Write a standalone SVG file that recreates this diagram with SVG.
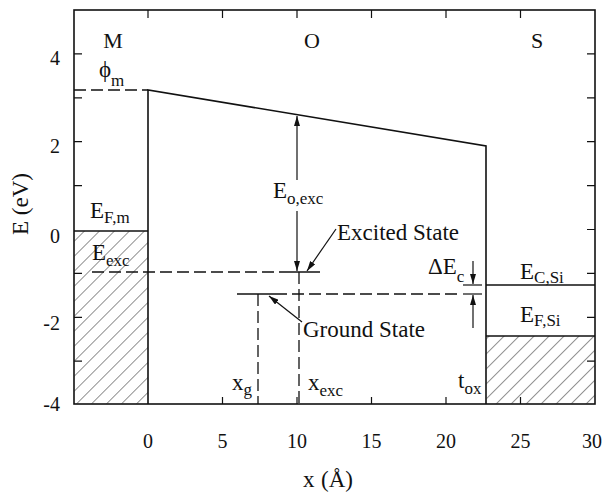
<svg xmlns="http://www.w3.org/2000/svg" width="605" height="493" viewBox="0 0 605 493">
<style>
text{font-family:"Liberation Serif","Times New Roman",serif;fill:#111}
.lbl{font-size:23px}
.reg{font-size:22px}
.sub{font-size:17px}
.tick{font-size:20px}
.ln{stroke:#111;stroke-width:1.6;fill:none}
.thin{stroke:#111;stroke-width:1.2;fill:none}
.dash{stroke:#111;stroke-width:1.3;fill:none;stroke-dasharray:12 5}
.hatch{fill:url(#hatch);stroke:none}
</style>
<defs>
<pattern id="hatch" patternUnits="userSpaceOnUse" width="10.6" height="10.6" patternTransform="rotate(45)">
<line x1="0" y1="0" x2="0" y2="10.6" stroke="#222" stroke-width="1"/>
</pattern>
<marker id="ah" viewBox="0 0 10 6" refX="10" refY="3" markerWidth="10" markerHeight="6" markerUnits="userSpaceOnUse" orient="auto">
<path d="M0,0 L10,3 L0,6 z" fill="#111"/>
</marker>
</defs>

<g id="axes">
<rect x="74" y="10" width="521" height="394" class="ln" stroke-width="1.8"/>
<path class="thin" d="M74,53.9h8 M74,97.8h8 M74,141.7h8 M74,185.6h8 M74,273.4h8 M74,317.3h8 M74,361.2h8
M595,53.9h-8 M595,97.8h-8 M595,141.7h-8 M595,185.6h-8 M595,229.5h-8 M595,273.4h-8 M595,317.3h-8 M595,361.2h-8
M148,10v8 M222.5,10v8 M297,10v8 M371.5,10v8 M446,10v8 M520.5,10v8
M222.5,404v-7 M297,404v-7 M371.5,404v-7 M446,404v-7 M520.5,404v-7"/>
</g>

<g id="tick-labels" class="tick" text-anchor="end">
<text x="60" y="65">4</text>
<text x="60" y="153">2</text>
<text x="60" y="243">0</text>
<text x="60" y="330">-2</text>
<text x="60" y="411">-4</text>
</g>
<g id="x-tick-labels" class="tick" text-anchor="middle">
<text x="148" y="448">0</text>
<text x="222.5" y="448">5</text>
<text x="297" y="448">10</text>
<text x="371.5" y="448">15</text>
<text x="446" y="448">20</text>
<text x="520.5" y="448">25</text>
<text x="592" y="448">30</text>
</g>
<text id="x-title" class="lbl" x="303" y="487">x<tspan x="321">(Å)</tspan></text>
<text id="y-title" class="lbl" transform="translate(28,204) rotate(-90)" text-anchor="middle">E (eV)</text>

<g id="region-labels" class="reg" text-anchor="middle">
<text x="113" y="48">M</text>
<text x="312" y="48">O</text>
<text x="537" y="48">S</text>
</g>

<g id="metal">
<rect x="74" y="231" width="74" height="173" class="hatch"/>
<line x1="74" y1="231" x2="148" y2="231" class="ln"/>
<line x1="74" y1="90" x2="148" y2="90" class="dash"/>
<text class="lbl" x="99" y="77">ϕ<tspan class="sub" dy="9">m</tspan></text>
<text class="lbl" x="90" y="218">E<tspan class="sub" dy="5">F,m</tspan></text>
<text class="lbl" x="92" y="260">E<tspan class="sub" dy="6">exc</tspan></text>
</g>

<g id="oxide">
<path class="ln" d="M148,404 V90 L486,146 V404"/>
</g>

<g id="silicon">
<rect x="486" y="336" width="109" height="68" class="hatch"/>
<line x1="486" y1="285" x2="595" y2="285" class="ln"/>
<line x1="486" y1="336" x2="595" y2="336" class="ln"/>
<text class="lbl" x="520" y="279">E<tspan class="sub" dy="4">C,Si</tspan></text>
<text class="lbl" x="520" y="322">E<tspan class="sub" dy="4">F,Si</tspan></text>
</g>

<g id="excited-state">
<line x1="92" y1="272" x2="281" y2="272" class="dash"/>
<line x1="281" y1="272" x2="320" y2="272" class="ln"/>
<line x1="299" y1="272" x2="299" y2="404" class="dash"/>
<text class="lbl" x="337" y="240">Excited State</text>
<text class="lbl" x="308" y="390">x<tspan class="sub" dy="6">exc</tspan></text>
</g>

<g id="ground-state">
<line x1="237" y1="294" x2="275" y2="294" class="ln"/>
<line x1="275" y1="294" x2="459" y2="294" class="dash"/>
<line x1="258" y1="294" x2="258" y2="404" class="dash"/>
<text class="lbl" x="303" y="337">Ground State</text>
<text class="lbl" x="232" y="390">x<tspan class="sub" dy="5">g</tspan></text>
</g>

<g id="delta-ec">
<line x1="463" y1="285" x2="482" y2="285" class="thin"/>
<line x1="463" y1="294" x2="482" y2="294" class="thin"/>
<text class="lbl" x="428" y="274">ΔE<tspan class="sub" dy="8">c</tspan></text>
</g>

<text id="tox" class="lbl" x="458" y="388">t<tspan class="sub" dy="6">ox</tspan></text>

<g id="connectors">
<line x1="297" y1="180" x2="297" y2="116" class="thin" marker-end="url(#ah)"/>
<line x1="297" y1="211" x2="297" y2="271" class="thin" marker-end="url(#ah)"/>
<line x1="336" y1="229" x2="307" y2="271" class="thin" marker-end="url(#ah)"/>
<line x1="302" y1="322" x2="269" y2="296" class="thin" marker-end="url(#ah)"/>
<line x1="473" y1="261" x2="473" y2="284" class="thin" marker-end="url(#ah)"/>
<line x1="473" y1="328" x2="473" y2="295" class="thin" marker-end="url(#ah)"/>
</g>
<text id="eoexc" class="lbl" x="273" y="198">E<tspan class="sub" dy="6">o,exc</tspan></text>
</svg>
